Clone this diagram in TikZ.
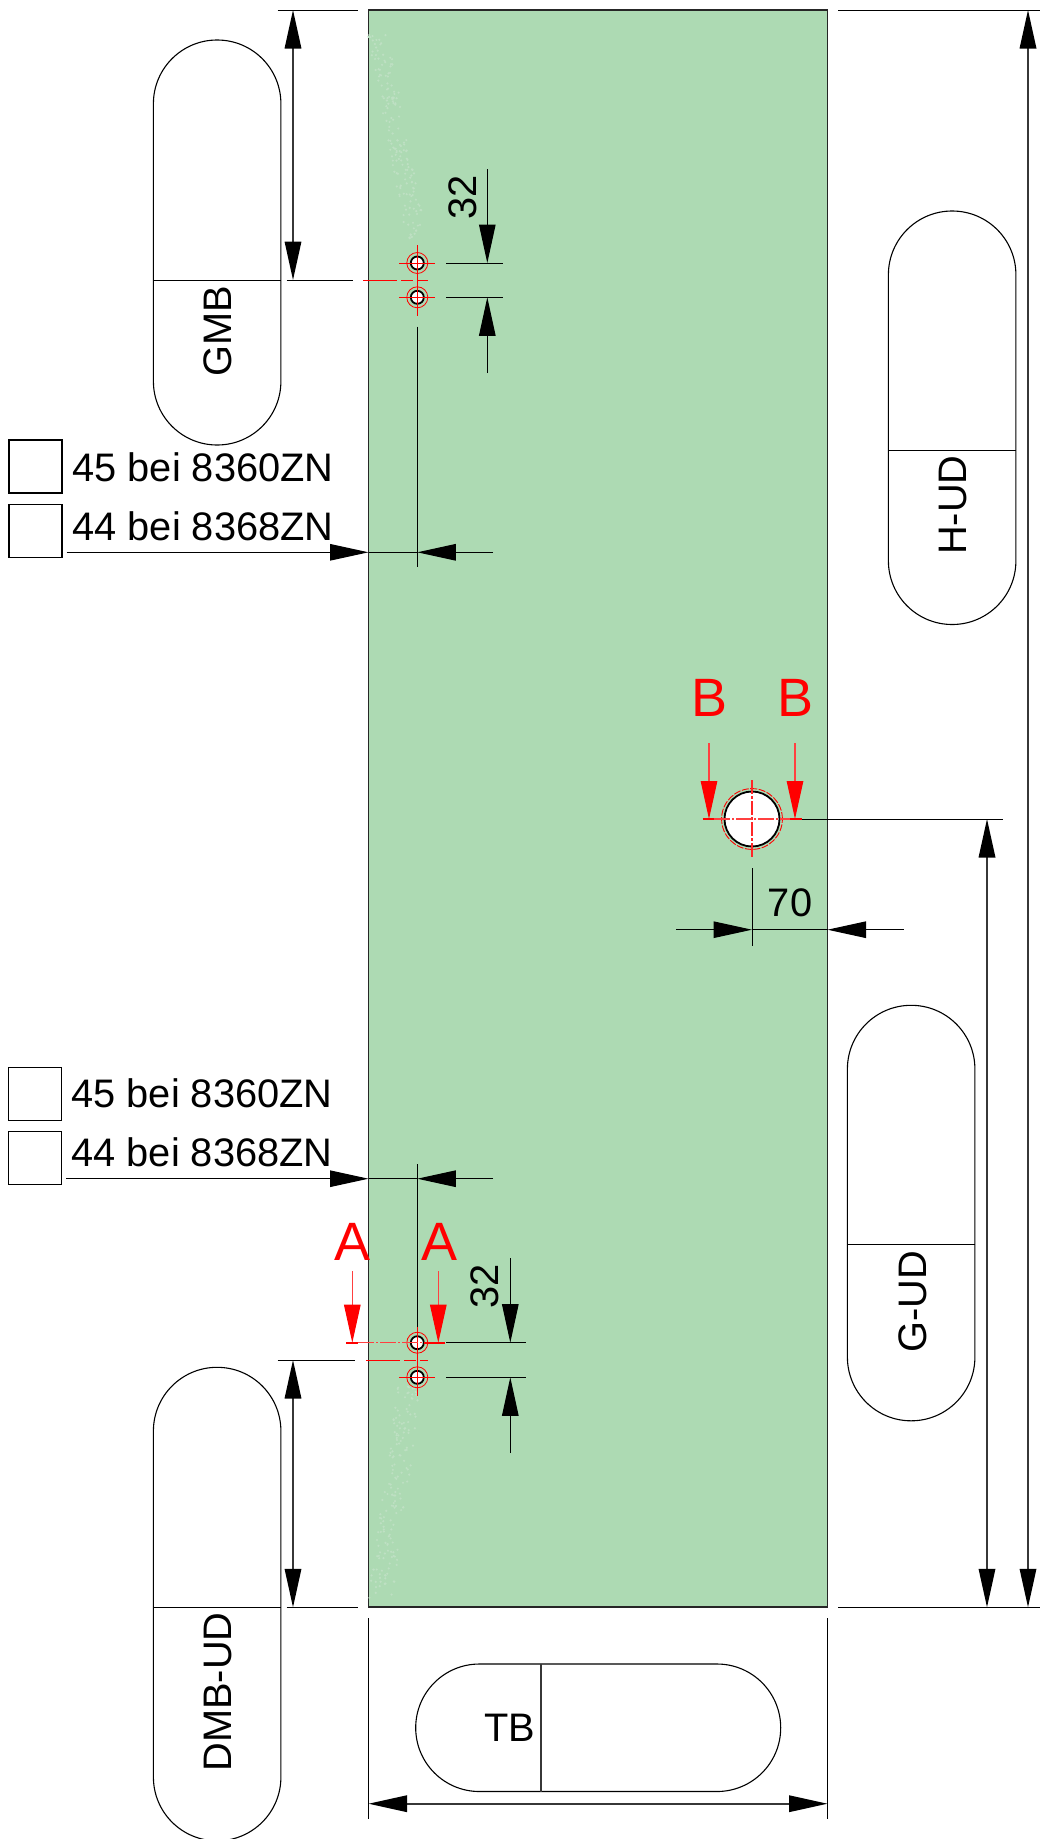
\documentclass[tikz,border=0pt]{standalone}
\usepackage{fontspec}
\setmainfont{Liberation Sans}
\usetikzlibrary{arrows.meta,calc}
\definecolor{plate}{RGB}{173,218,179}
\definecolor{speck}{RGB}{190,224,195}
\definecolor{dimgrey}{RGB}{55,55,55}
\tikzset{
  x=1pt,y=-1pt,
  tipshape/.tip={Triangle[length=38.5pt,width=16.5pt,fill=black,color=black]},
  platebox/.style={draw=black!85,line width=1.9pt,fill=plate,line join=miter},
  capsule/.style={draw=black,line width=1.1pt,rounded corners=63.7pt,minimum width=127.5pt,inner sep=0pt,outer sep=0pt,anchor=north west},
  capsuleh/.style={draw=black,line width=1.1pt,rounded corners=63.7pt,minimum height=127.5pt,inner sep=0pt,outer sep=0pt,anchor=north west},
  thin line/.style={draw=black,line width=1.0pt},
  dimline/.style={draw=dimgrey,line width=1.7pt},
  tipend/.style={draw=black,line width=1.1pt,-{tipshape}},
  tipboth/.style={dimline,{tipshape}-{tipshape}},
  squarebox/.style={draw=black,line width=1.1pt,minimum size=53pt,inner sep=0pt,outer sep=0pt,anchor=north west},
  hole/.style={circle,draw=black,fill=white,line width=1.8pt,minimum size=13pt,inner sep=0pt},
  redring/.style={draw=red,line width=0.8pt},
  redcross/.style={draw=red,line width=0.9pt},
  redcut/.style={draw=red,line width=1.7pt},
  reddash/.style={draw=red!75,line width=1.2pt,dash pattern=on 16pt off 2pt on 2pt off 2pt},
  redcentre/.style={draw=red,line width=1pt,dash pattern=on 34pt off 4pt on 12pt off 4pt},
  redarrow/.style={draw=red!75,line width=1.1pt,-{Triangle[length=38pt,width=16.5pt,fill=red,color=red]}},
  txt/.style={font=\fontsize{39.8}{47}\selectfont,inner sep=0pt,outer sep=0pt,text=black},
  redtxt/.style={font=\fontsize{54}{60}\selectfont,inner sep=0pt,outer sep=0pt,text=red,anchor=base},
}
\begin{document}
\begin{tikzpicture}
\useasboundingbox (0,0) rectangle (1040,1839);
\clip (0,0) rectangle (1040,1839);
% plate
\coordinate (TL) at (368.5,10);
\coordinate (BR) at (827.5,1607.3);
\path[platebox] (TL) rectangle (BR);
% faint speckles
\pgfmathsetseed{11}
\foreach \i in {1,...,170}{
  \pgfmathsetmacro{\ya}{35+rnd*205}
  \pgfmathsetmacro{\xa}{372+(\ya-35)*0.19+rnd*20-4}
  \fill[speck] (\xa,\ya) circle (1.2pt);
  \pgfmathsetmacro{\yb}{1385+rnd*215}
  \pgfmathsetmacro{\xb}{372+(1600-\yb)*0.14+rnd*24-4}
  \fill[speck] (\xb,\yb) circle (1.2pt);
}
% capsules
\node[capsule,minimum height=405pt] (gmb) at (153.4,40) {};
\node[capsule,minimum height=413.5pt] (hud) at (888.4,211) {};
\node[capsule,minimum height=415.5pt] (gud) at (847.4,1005.3) {};
\node[capsule,minimum height=473.5pt] (dmb) at (153.4,1367.3) {};
\node[capsuleh,minimum width=365pt] (tb) at (415.7,1664) {};
\draw[thin line] (gmb.west |- 0,280) -- (gmb.east |- 0,280);
\draw[thin line] (hud.west |- 0,450) -- (hud.east |- 0,450);
\draw[thin line] (gud.west |- 0,1244.7) -- (gud.east |- 0,1244.7);
\draw[thin line] (dmb.west |- 0,1607.3) -- (dmb.east |- 0,1607.3);
\draw[dimline] (541,1664) -- (541,1791.7);
\node[txt,rotate=90,anchor=base] (tgmb) at (231.5,331) {GMB};
\node[txt,rotate=90,anchor=base] (thud) at (966.7,505) {H-UD};
\node[txt,rotate=90,anchor=base] (tgud) at (926,1302) {G-UD};
\node[txt,rotate=90,anchor=base] (tdmb) at (231.5,1692) {DMB-UD};
\node[txt,anchor=base east] (ttb) at (535,1741.7) {TB};
% note boxes
\node[squarebox] (s1) at (9,440) {};
\node[squarebox] (s2) at (9,504.3) {};
\node[squarebox] (s3) at (8.5,1067.5) {};
\node[squarebox] (s4) at (8.5,1131.5) {};
\node[txt,anchor=base west] (n1) at (72.5,481) {45 bei 8360ZN};
\node[txt,anchor=base west] (n2) at (72.5,540) {44 bei 8368ZN};
\node[txt,anchor=base west] (n3) at (71.5,1107.3) {45 bei 8360ZN};
\node[txt,anchor=base west] (n4) at (71.5,1166.7) {44 bei 8368ZN};
% holes: red marks
\coordinate (h1) at (417.3,263);
\coordinate (h2) at (417.3,297.3);
\coordinate (h3) at (417.3,1342.7);
\coordinate (h4) at (417.3,1377.3);
\foreach \h in {h1,h2,h3,h4}{ \path[redring] (\h) circle (10.5pt); }
\node[hole] (ho1) at (h1) {};
\node[hole] (ho2) at (h2) {};
\node[hole] (ho3) at (h3) {};
\node[hole] (ho4) at (h4) {};
\draw[redcross] (417.3,245) -- (417.3,315.7);
\draw[redcross] (399.3,263) -- (435,263);
\draw[redcross] (399.3,297.3) -- (435,297.3);
\draw[redcross] (417.3,1325.7) -- (417.3,1395.7);
\draw[redcross] (399.3,1377.3) -- (435,1377.3);
\draw[redcentre] (363,280.3) -- (428,280.3);
\draw[redcentre] (366,1360) -- (427.7,1360);
% large hole
\coordinate (hb) at (752,819);
\node[circle,draw=black,fill=white,line width=1.8pt,minimum size=55pt,inner sep=0pt] (hbig) at (hb) {};
\draw[red,line width=0.9pt,dash pattern=on 7pt off 1.5pt] (hb) circle (30.4pt);
\draw[red!85,line width=1.1pt,dash pattern=on 14pt off 2pt on 3pt off 2pt] (752,780) -- (752,857.7);
% top-hole dimension
\draw[thin line] (446,263) -- (503,263);
\draw[thin line] (446,297.3) -- (503,297.3);
\draw[tipend] (487.3,169) -- (487.3,263);
\draw[tipend] (487.3,373) -- (487.3,297.3);
\node[txt,rotate=90,anchor=base] (d32a) at (476,197) {32};
% bottom-hole dimension
\draw[thin line] (446,1342.7) -- (526,1342.7);
\draw[thin line] (446,1377.3) -- (526,1377.3);
\draw[tipend] (510.3,1258) -- (510.3,1342.7);
\draw[tipend] (510.3,1453) -- (510.3,1377.3);
\node[txt,rotate=90,anchor=base] (d32b) at (498.5,1286.5) {32};
% offsets
\draw[thin line] (417.3,326.7) -- (417.3,567);
\draw[tipend] (66.5,552.3) -- (368.5,552.3);
\draw[tipend] (493,552.3) -- (417.3,552.3);
\draw[thin line] (368.5,552.3) -- (417.3,552.3);
\draw[thin line] (417.3,1164) -- (417.3,1327);
\draw[tipend] (66,1178.7) -- (368.5,1178.7);
\draw[tipend] (493,1178.7) -- (417.3,1178.7);
\draw[thin line] (368.5,1178.7) -- (417.3,1178.7);
% left heights
\draw[thin line] (277.7,10) -- (357.7,10);
\draw[thin line] (286.7,280) -- (352.7,280);
\draw[tipboth] (293,10) -- (293,280);
\draw[thin line] (277.7,1360) -- (355,1360);
\draw[thin line] (286.7,1607.3) -- (357.7,1607.3);
\draw[tipboth] (293,1360) -- (293,1607.3);
% right heights
\draw[thin line] (838,10) -- (1040,10);
\draw[thin line] (838,1607.3) -- (1040,1607.3);
\draw[thin line] (801.7,819) -- (1002.5,819);
\draw[tipboth] (987,819) -- (987,1607.3);
\draw[tipboth] (1028,10) -- (1028,1607.3);
% 70
\draw[thin line] (752,868) -- (752,945.7);
\draw[tipend] (676,929.7) -- (752,929.7);
\draw[tipend] (903.7,929.7) -- (827.5,929.7);
\draw[thin line] (752,929.7) -- (827.5,929.7);
\node[txt,anchor=base] (d70) at (790,916.7) {70};
% width
\draw[thin line] (368.5,1618) -- (368.5,1819);
\draw[thin line] (827.5,1618) -- (827.5,1819);
\draw[tipboth] (368.5,1803.7) -- (827.5,1803.7);
% section A
\draw[redcut] (346,1342.7) -- (358,1342.7);
\draw[redcut] (424,1342.7) -- (445,1342.7);
\draw[reddash] (358,1342.7) -- (424,1342.7);
\draw[redarrow] (352.3,1271) -- (352.3,1342.7);
\draw[redarrow] (438.3,1271) -- (438.3,1342.7);
\node[redtxt] (la1) at (352.8,1260.7) {A};
\node[redtxt] (la2) at (439.5,1260.7) {A};
% section B
\draw[redcut] (702.7,819) -- (714,819);
\draw[redcut] (790,819) -- (801.7,819);
\draw[reddash] (714,819) -- (790,819);
\draw[redarrow] (709,743.3) -- (709,819);
\draw[redarrow] (795,743.3) -- (795,819);
\node[redtxt] (lb1) at (709.5,716.7) {B};
\node[redtxt] (lb2) at (795.5,716.7) {B};
\end{tikzpicture}
\end{document}
